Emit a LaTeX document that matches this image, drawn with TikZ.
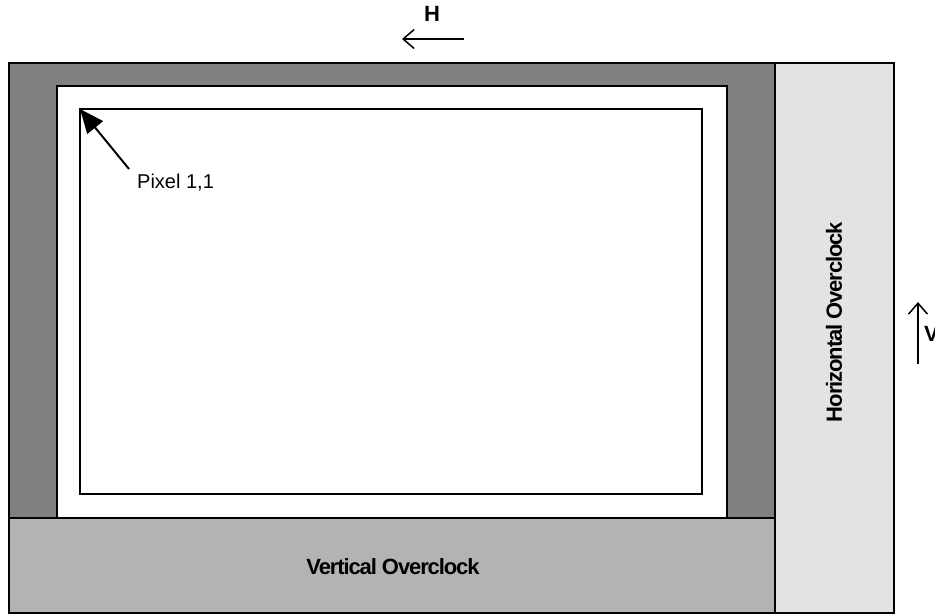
\documentclass[tikz,border=0pt]{standalone}
\usepackage{fontspec}
\setmainfont{Liberation Sans}
\newfontfamily\tightbold[LetterSpace=-5]{Liberation Sans Bold}
\usetikzlibrary{arrows.meta}
\definecolor{darkgr}{HTML}{808080}
\definecolor{midgr}{HTML}{B3B3B3}
\definecolor{lightgr}{HTML}{E3E3E3}
\tikzset{
  box/.style={draw=black, line width=2pt},
  lbl/.style={font=\fontsize{22}{26}\tightbold, inner sep=0pt},
  plain/.style={font=\fontsize{20}{24}\selectfont, inner sep=0pt},
  dirarrow/.style={line width=1.5pt, -{Straight Barb[length=11pt,width=19pt,line width=1.5pt]}},
  pixarrow/.style={line width=2pt, -{Triangle[length=24pt,width=20pt]}}
}
\begin{document}
\begin{tikzpicture}[x=1pt,y=-1pt]
\useasboundingbox (0,0) rectangle (935,614);
% regions
\fill[darkgr] (9,63) rectangle (775,518);
\draw[box] (9,63) rectangle (775,518);
\draw[box, fill=midgr] (9,518) rectangle (775,613);
\draw[box, fill=lightgr] (775,63) rectangle (894,613);
\draw[box, fill=white] (57,86) rectangle (727,518);
\draw[box, fill=white] (80,109) rectangle (702,494);
% labels
\node[lbl] (vo) at (393,567) {Vertical Overclock};
\node[lbl, rotate=90] (ho) at (834,322) {Horizontal Overclock};
% direction arrows
\coordinate (hs) at (464,39);
\coordinate (he) at (402,39);
\draw[dirarrow] (hs) -- (he);
\node[lbl] (h) at (432,14) {H};
\coordinate (vs) at (918,364);
\coordinate (ve) at (918,302);
\draw[dirarrow] (vs) -- (ve);
\node[lbl, anchor=west] (v) at (924,334) {V};
% pixel label
\coordinate (tip) at (80,109);
\node[plain, anchor=west] (pix) at (137,183) {Pixel 1,1};
\coordinate (tail) at (129,169);
\draw[pixarrow] (tail) -- (tip);
\end{tikzpicture}
\end{document}
